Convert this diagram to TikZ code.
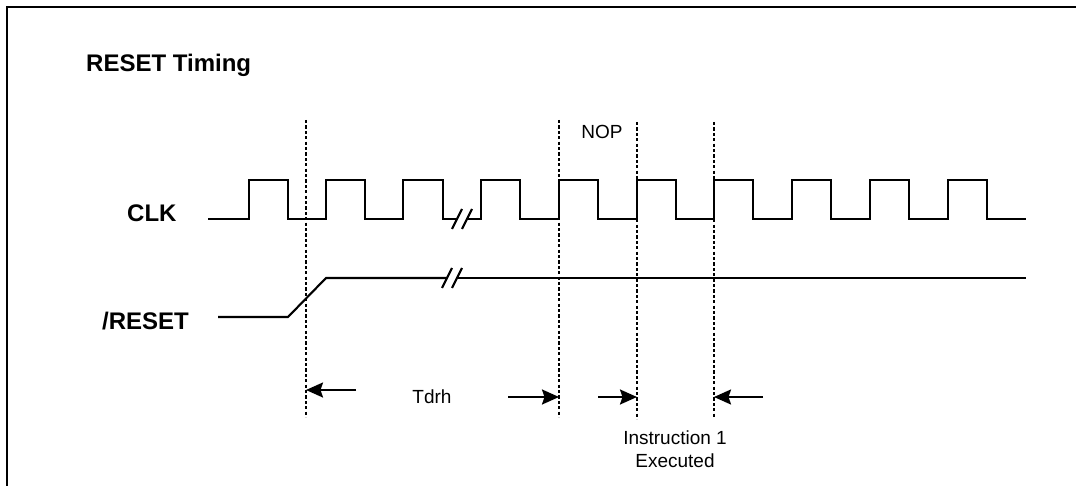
\documentclass[tikz,border=0pt]{standalone}
\usepackage{fontspec}
\setmainfont{Liberation Sans}
\usetikzlibrary{arrows.meta}
\begin{document}
\begin{tikzpicture}[x=1pt,y=-1pt,
  signal/.style={line width=2.1pt,line join=miter},
  marker/.style={line width=2.2pt,dash pattern=on 3.2pt off 2.2pt},
  dimarrow/.style={line width=2.1pt,-{Stealth[length=17pt,width=15pt,inset=2.5pt]}},
  biglabel/.style={inner sep=0pt,font=\fontsize{24}{28}\selectfont\bfseries},
  smalllabel/.style={inner sep=0pt,font=\fontsize{19}{22}\selectfont}]
\useasboundingbox (0,0) rectangle (1076,486);

% frame
\draw[line width=2.5pt] (7,487) -- (7,7) -- (1077,7);

% labels
\node[biglabel,anchor=base west] (title) at (86,72) {RESET Timing};
\node[biglabel,anchor=base west] (clk) at (127,222) {CLK};
\node[biglabel,anchor=base west] (rst) at (102,330) {/RESET};

% clock waveform, first part
\draw[signal] (208,219) -- (249,219) -- (249,180) -- (288,180) -- (288,219)
  -- (326,219) -- (326,180) -- (365,180) -- (365,219)
  -- (403,219) -- (403,180) -- (443,180) -- (443,219) -- (457,219);
% break marks on the clock
\draw[signal] (452,229) -- (462,209);
\draw[signal] (462,229) -- (472,209);
% clock waveform, second part
\draw[signal] (467,219) -- (481,219) -- (481,180) -- (520,180) -- (520,219)
  -- (559,219) -- (559,180) -- (598,180) -- (598,219)
  -- (637,219) -- (637,180) -- (676,180) -- (676,219)
  -- (714,219) -- (714,180) -- (753,180) -- (753,219)
  -- (792,219) -- (792,180) -- (831,180) -- (831,219)
  -- (870,219) -- (870,180) -- (909,180) -- (909,219)
  -- (948,219) -- (948,180) -- (987,180) -- (987,219) -- (1026,219);

% reset waveform
\draw[signal] (218,317) -- (288,317) -- (326,278) -- (447,278);
\draw[signal] (442,288) -- (452,268);
\draw[signal] (452,288) -- (462,268);
\draw[signal] (457,278) -- (1026,278);

% timing markers
\coordinate (m1t) at (306,120); \coordinate (m1b) at (306,417);
\coordinate (m2t) at (559,120); \coordinate (m2b) at (559,417);
\coordinate (m3t) at (637,122); \coordinate (m3b) at (637,419);
\coordinate (m4t) at (714,122); \coordinate (m4b) at (714,418);
\draw[marker] (m1t) -- (m1b);
\draw[marker] (m2t) -- (m2b);
\draw[marker] (m3t) -- (m3b);
\draw[marker] (m4t) -- (m4b);

% dimension arrows
\coordinate (a1s) at (356,390); \coordinate (a1e) at (306,390);
\coordinate (a2s) at (508,397); \coordinate (a2e) at (559,397);
\coordinate (a3s) at (598,397); \coordinate (a3e) at (637,397);
\coordinate (a4s) at (763,397); \coordinate (a4e) at (714,397);
\draw[dimarrow] (a1s) -- (a1e);
\draw[dimarrow] (a2s) -- (a2e);
\draw[dimarrow] (a3s) -- (a3e);
\draw[dimarrow] (a4s) -- (a4e);

% annotations
\node[smalllabel,anchor=base] (tdrh) at (432,403) {Tdrh};
\node[smalllabel,anchor=base] (nop) at (602,139) {NOP};
\node[smalllabel,anchor=base] (instr) at (675,444) {Instruction 1};
\node[smalllabel,anchor=base] (exec) at (675,467) {Executed};
\end{tikzpicture}
\end{document}
